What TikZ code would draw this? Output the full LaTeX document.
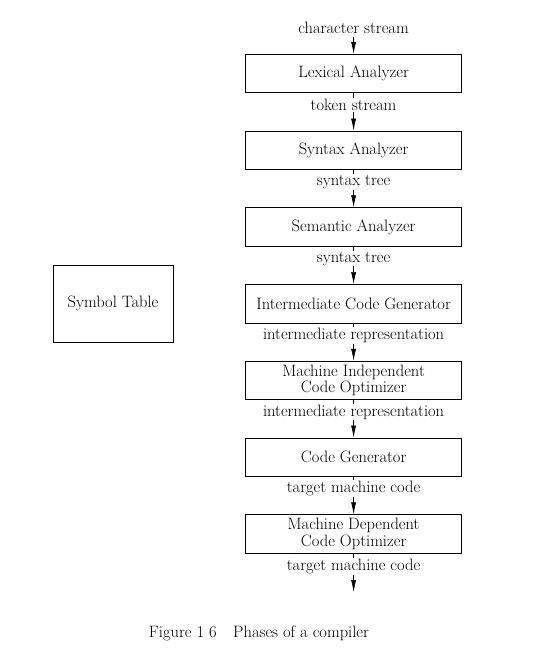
\documentclass[tikz,border=0pt]{standalone}
\usepackage{tikz}
\usetikzlibrary{arrows.meta,positioning}

\newcommand{\phasefont}{\fontsize{16.5}{16.5}\selectfont}

\begin{document}
\begin{tikzpicture}[x=1pt, y=-1pt, font=\phasefont,
    phase/.style={draw, line width=0.8pt, minimum width=216pt, minimum height=38.5pt, align=center, inner sep=0pt},
    stream/.style={fill=white, inner sep=1pt},
    flow/.style={-{Latex[length=12pt, width=5pt]}, line width=0.6pt}]
    \useasboundingbox (0,0) rectangle (555,662);

    % the phases
    \node[phase] (lex) at (353.6,73.5) {Lexical Analyzer};
    \node[phase] (syn) at (353.6,150.25) {Syntax Analyzer};
    \node[phase] (sem) at (353.6,227) {Semantic Analyzer};
    \node[phase] (icg) at (353.6,303.75) {Intermediate Code Generator};
    \node[phase] (mio) at (353.6,380.5) {Machine Independent\\Code Optimizer};
    \node[phase] (cg) at (353.6,457.25) {Code Generator};
    \node[phase] (mdo) at (353.6,534) {Machine Dependent\\Code Optimizer};
    \node[draw, line width=0.8pt, minimum width=120pt, minimum height=77pt] (sym) at (113,303.75) {Symbol Table};

    % what flows between them
    \node (src) at (353.6,28) {character stream};
    \coordinate (out) at (353.6,592);
    \draw[flow] (src) -- (lex);
    \draw[flow] (lex) -- node[stream, pos=0.32] {token stream} (syn);
    \draw[flow] (syn) -- node[stream, pos=0.32] {syntax tree} (sem);
    \draw[flow] (sem) -- node[stream, pos=0.32] {syntax tree} (icg);
    \draw[flow] (icg) -- node[stream, pos=0.32] {intermediate representation} (mio);
    \draw[flow] (mio) -- node[stream, pos=0.32] {intermediate representation} (cg);
    \draw[flow] (cg) -- node[stream, pos=0.32] {target machine code} (mdo);
    \draw[flow] (mdo) -- node[stream, pos=0.33] {target machine code} (out);

    \node (cap) at (259,633) {Figure 1 6\hspace{1em}Phases of a compiler};
\end{tikzpicture}
\end{document}
